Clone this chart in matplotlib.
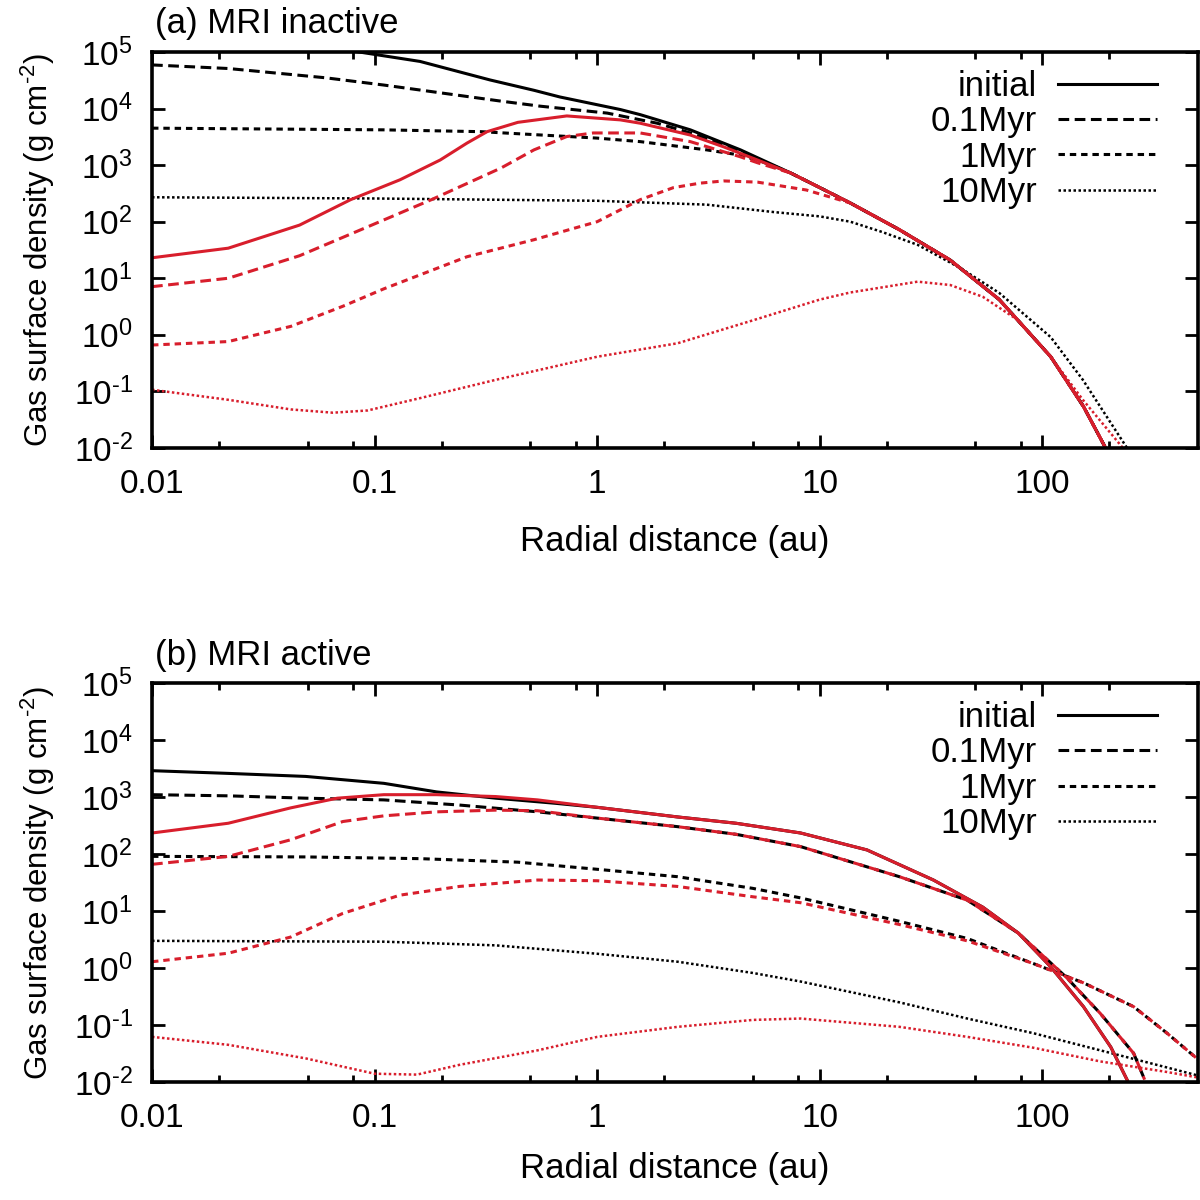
import matplotlib
matplotlib.use('Agg')
import matplotlib.pyplot as plt
from matplotlib.ticker import FixedLocator, NullFormatter

plt.rcParams['font.family'] = ['Liberation Sans', 'DejaVu Sans']
plt.rcParams['mathtext.fontset'] = 'custom'
plt.rcParams['mathtext.rm'] = 'Liberation Sans'
plt.rcParams['mathtext.it'] = 'Liberation Sans:italic'
plt.rcParams['mathtext.bf'] = 'Liberation Sans:bold'

RED = '#d81e2c'
FS = 25
TFS = 24

labels = ['initial', '0.1Myr', '1Myr', '10Myr']
xtick_vals = [0.01, 0.1, 1, 10, 100]
xtick_labels = ['0.01', '0.1', '1', '10', '100']
xminor_vals = [0.02, 0.05, 0.08, 0.2, 0.5, 0.8, 2, 5, 8, 20, 50, 80, 200]
ytick_vals = [1e-2, 1e-1, 1e0, 1e1, 1e2, 1e3, 1e4, 1e5]
ytick_labels = [r'$10^{\text{-2}}$', r'$10^{\text{-1}}$', r'$10^{0}$', r'$10^{1}$',
                r'$10^{2}$', r'$10^{3}$', r'$10^{4}$', r'$10^{5}$']

# ---------------- Panel (a): MRI inactive ----------------
a_tail_x = [7.4, 10, 13.7, 22.8, 38.5, 64, 109, 153, 191]
a_tail_y = [725, 400, 214, 72, 21, 4.2, 0.41, 0.054, 0.0105]

a_init_x = [0.01, 0.085, 0.16, 0.33, 0.52, 0.68, 1.27, 1.56, 2.62, 4.4]
a_init_y = [4.0e5, 1.0e5, 6.8e4, 3.2e4, 2.1e4, 1.6e4, 9.6e3, 7.8e3, 4.2e3, 1.86e3]

a_01_x = [0.01, 0.022, 0.06, 0.11, 0.37, 0.555, 1.11, 1.86, 2.62, 3.7]
a_01_y = [5.9e4, 5.1e4, 3.5e4, 2.6e4, 1.35e4, 1.1e4, 8.3e3, 5.5e3, 3.7e3, 2.3e3]

a_1_x = [0.01, 0.11, 0.3, 1.0, 1.56, 3.1, 4.4, 5.5]
a_1_y = [4.5e3, 4.2e3, 3.9e3, 3.0e3, 2.6e3, 1.86e3, 1.5e3, 1.15e3]

a_10_x = [0.01, 0.1, 1.0, 3.1, 6.2, 10, 13.7, 19, 27.5, 43, 64, 109, 152, 240]
a_10_y = [270, 257, 234, 200, 148, 124, 100, 66, 39, 15, 5.5, 0.91, 0.16, 0.01]

a_red_init_x = [0.01, 0.022, 0.046, 0.078, 0.13, 0.197, 0.26, 0.32, 0.44, 0.73, 1.27,
                1.56, 2.62, 3.7, 5.25]
a_red_init_y = [23, 34, 87, 245, 550, 1.23e3, 2.45e3, 3.9e3, 5.7e3, 7.4e3, 6.3e3,
                5.5e3, 3.4e3, 2.1e3, 1.23e3]

a_red_01_x = [0.01, 0.022, 0.046, 0.093, 0.18, 0.37, 0.52, 0.73, 0.96, 1.56, 2.62, 4.4, 5.25]
a_red_01_y = [7.1, 10, 25, 81, 245, 890, 1.86e3, 3.2e3, 3.7e3, 3.7e3, 2.6e3, 1.4e3, 1.1e3]

a_red_1_x = [0.01, 0.022, 0.042, 0.072, 0.11, 0.26, 0.52, 1.0, 1.56, 2.2, 2.9, 3.7, 5.25, 8.7]
a_red_1_y = [0.66, 0.76, 1.41, 3.2, 6.5, 24, 48, 100, 245, 400, 480, 525, 500, 363]

a_red_10_x = [0.01, 0.022, 0.042, 0.065, 0.093, 0.16, 0.35, 1.0, 2.3, 5.0, 10, 13.7,
              27.5, 38.5, 54, 78, 109, 152, 230]
a_red_10_y = [0.107, 0.071, 0.048, 0.042, 0.046, 0.076, 0.16, 0.41, 0.71, 1.8, 4.2, 5.6,
              8.7, 7.6, 4.7, 1.8, 0.41, 0.071, 0.01]

# ---------------- Panel (b): MRI active ----------------
b_tail_x = [2.3, 4.2, 8.2, 16.3, 32.4, 54, 78, 109, 153, 203, 240]
b_tail_y = [447, 347, 234, 118, 35, 11.7, 4.1, 1.05, 0.21, 0.041, 0.011]

b_init_x = [0.01, 0.022, 0.049, 0.11, 0.19, 0.35, 0.65, 1.0]
b_init_y = [2.9e3, 2.6e3, 2.3e3, 1.74e3, 1.23e3, 955, 776, 660]

b_red_init_x = [0.01, 0.022, 0.042, 0.068, 0.11, 0.19, 0.35, 0.54, 1.0]
b_red_init_y = [234, 347, 646, 955, 1.1e3, 1.1e3, 1.02e3, 891, 660]

b_01_tail_x = [2.3, 4.2, 8.2, 22.8, 46, 78, 128, 182, 257, 288]
b_01_tail_y = [302, 222, 135, 40, 15.5, 4.1, 0.69, 0.16, 0.032, 0.011]

b_01_x = [0.01, 0.022, 0.049, 0.11, 0.24, 0.54, 1.0]
b_01_y = [1.1e3, 1.05e3, 955, 891, 724, 550, 427]

b_red_01_x = [0.01, 0.022, 0.042, 0.072, 0.11, 0.19, 0.35, 0.54, 1.0]
b_red_01_y = [66, 91, 178, 372, 468, 550, 589, 575, 427]

b_1_x = [0.01, 0.049, 0.16, 0.44, 1.0, 2.3, 5.0, 8.2, 22.8, 46, 91, 153, 257, 363, 500]
b_1_y = [91, 89, 83, 72, 54, 40, 25, 17, 6.6, 3.3, 1.2, 0.55, 0.21, 0.072, 0.025]

b_red_1_x = [0.01, 0.022, 0.042, 0.072, 0.13, 0.24, 0.54, 1.0, 2.3, 5.0, 8.2, 22.8, 46,
             91, 153, 257, 363, 500]
b_red_1_y = [1.29, 1.82, 3.5, 9.1, 19, 27, 35, 34, 27, 17.8, 14, 5.8, 3.0,
             1.2, 0.55, 0.21, 0.072, 0.025]

b_10_x = [0.01, 0.11, 0.35, 1.0, 2.3, 5.0, 8.2, 22.8, 46, 91, 182, 363, 500]
b_10_y = [3.0, 2.9, 2.5, 1.78, 1.29, 0.82, 0.58, 0.25, 0.13, 0.072, 0.036, 0.018, 0.013]

b_red_10_x = [0.01, 0.022, 0.049, 0.1, 0.155, 0.24, 0.54, 1.0, 2.3, 5.0, 8.2, 22.8, 46,
              91, 182, 363, 500]
b_red_10_y = [0.062, 0.045, 0.026, 0.014, 0.0135, 0.020, 0.036, 0.062, 0.093, 0.123, 0.13,
              0.093, 0.062, 0.04, 0.023, 0.015, 0.012]

LW = 2.2
STYLES = {
    'initial': dict(linestyle='-', lw=LW),
    '0.1Myr': dict(linestyle=(0, (3.5, 1.8)), lw=LW),
    '1Myr': dict(linestyle=(0, (2.1, 1.6)), lw=LW),
    '10Myr': dict(linestyle=(0, (1.0, 1.0)), lw=1.8),
}

fig = plt.figure(figsize=(12, 12), dpi=100)
ax_a = fig.add_axes([0.1267, 0.6267, 0.8716, 0.3300])
ax_b = fig.add_axes([0.1267, 0.0983, 0.8716, 0.3325])

panel_a_black = [
    (a_init_x + a_tail_x, a_init_y + a_tail_y),
    (a_01_x + a_tail_x, a_01_y + a_tail_y),
    (a_1_x + a_tail_x, a_1_y + a_tail_y),
    (a_10_x, a_10_y),
]
panel_a_red = [
    (a_red_init_x + a_tail_x, a_red_init_y + a_tail_y),
    (a_red_01_x + a_tail_x, a_red_01_y + a_tail_y),
    (a_red_1_x + a_tail_x[2:], a_red_1_y + a_tail_y[2:]),
    (a_red_10_x, a_red_10_y),
]
panel_b_black = [
    (b_init_x + b_tail_x, b_init_y + b_tail_y),
    (b_01_x + b_01_tail_x, b_01_y + b_01_tail_y),
    (b_1_x, b_1_y),
    (b_10_x, b_10_y),
]
panel_b_red = [
    (b_red_init_x + b_tail_x, b_red_init_y + b_tail_y),
    (b_red_01_x + b_01_tail_x, b_red_01_y + b_01_tail_y),
    (b_red_1_x, b_red_1_y),
    (b_red_10_x, b_red_10_y),
]


def setup(ax, title, blacks, reds, title_y, xlabel_y):
    for lab, (x, y) in zip(labels, blacks):
        ax.plot(x, y, color='black', label=lab, **STYLES[lab])
    for lab, (x, y) in zip(labels, reds):
        ax.plot(x, y, color=RED, **STYLES[lab])
    ax.set_xscale('log')
    ax.set_yscale('log')
    ax.set_xlim(0.01, 500)
    ax.set_ylim(1e-2, 1e5)
    ax.xaxis.set_major_locator(FixedLocator(xtick_vals))
    ax.set_xticklabels(xtick_labels)
    ax.xaxis.set_minor_locator(FixedLocator(xminor_vals))
    ax.xaxis.set_minor_formatter(NullFormatter())
    ax.yaxis.set_major_locator(FixedLocator(ytick_vals))
    ax.set_yticklabels(ytick_labels)
    ax.yaxis.set_minor_locator(FixedLocator([]))
    ax.tick_params(which='both', direction='in', top=True, right=True,
                   labelsize=TFS, width=2.0)
    ax.tick_params(which='major', length=9.5)
    ax.tick_params(which='minor', length=5)
    ax.tick_params(axis='x', which='major', pad=15)
    ax.tick_params(axis='y', which='major', pad=14)
    for s in ax.spines.values():
        s.set_linewidth(2.6)
    ax.set_xlabel('Radial distance (au)', fontsize=FS)
    ax.set_ylabel(r'Gas surface density (g cm$^{\text{-2}}$)', fontsize=22.5)
    ax.xaxis.set_label_coords(0.5, xlabel_y)
    ax.yaxis.set_label_coords(-0.091, 0.5)
    ax.text(0.003, title_y, title, transform=ax.transAxes, fontsize=FS,
            ha='left', va='baseline')
    ax.legend(loc='upper right', bbox_to_anchor=(0.961, 0.955),
              markerfirst=False, frameon=False, fontsize=FS,
              handlelength=2.85, handletextpad=0.62, labelspacing=0.07,
              borderpad=0, borderaxespad=0)


setup(ax_a, '(a) MRI inactive', panel_a_black, panel_a_red, 1.048, -0.195)
setup(ax_b, '(b) MRI active', panel_b_black, panel_b_red, 1.045, -0.175)

fig.savefig('out.png', dpi=100)
